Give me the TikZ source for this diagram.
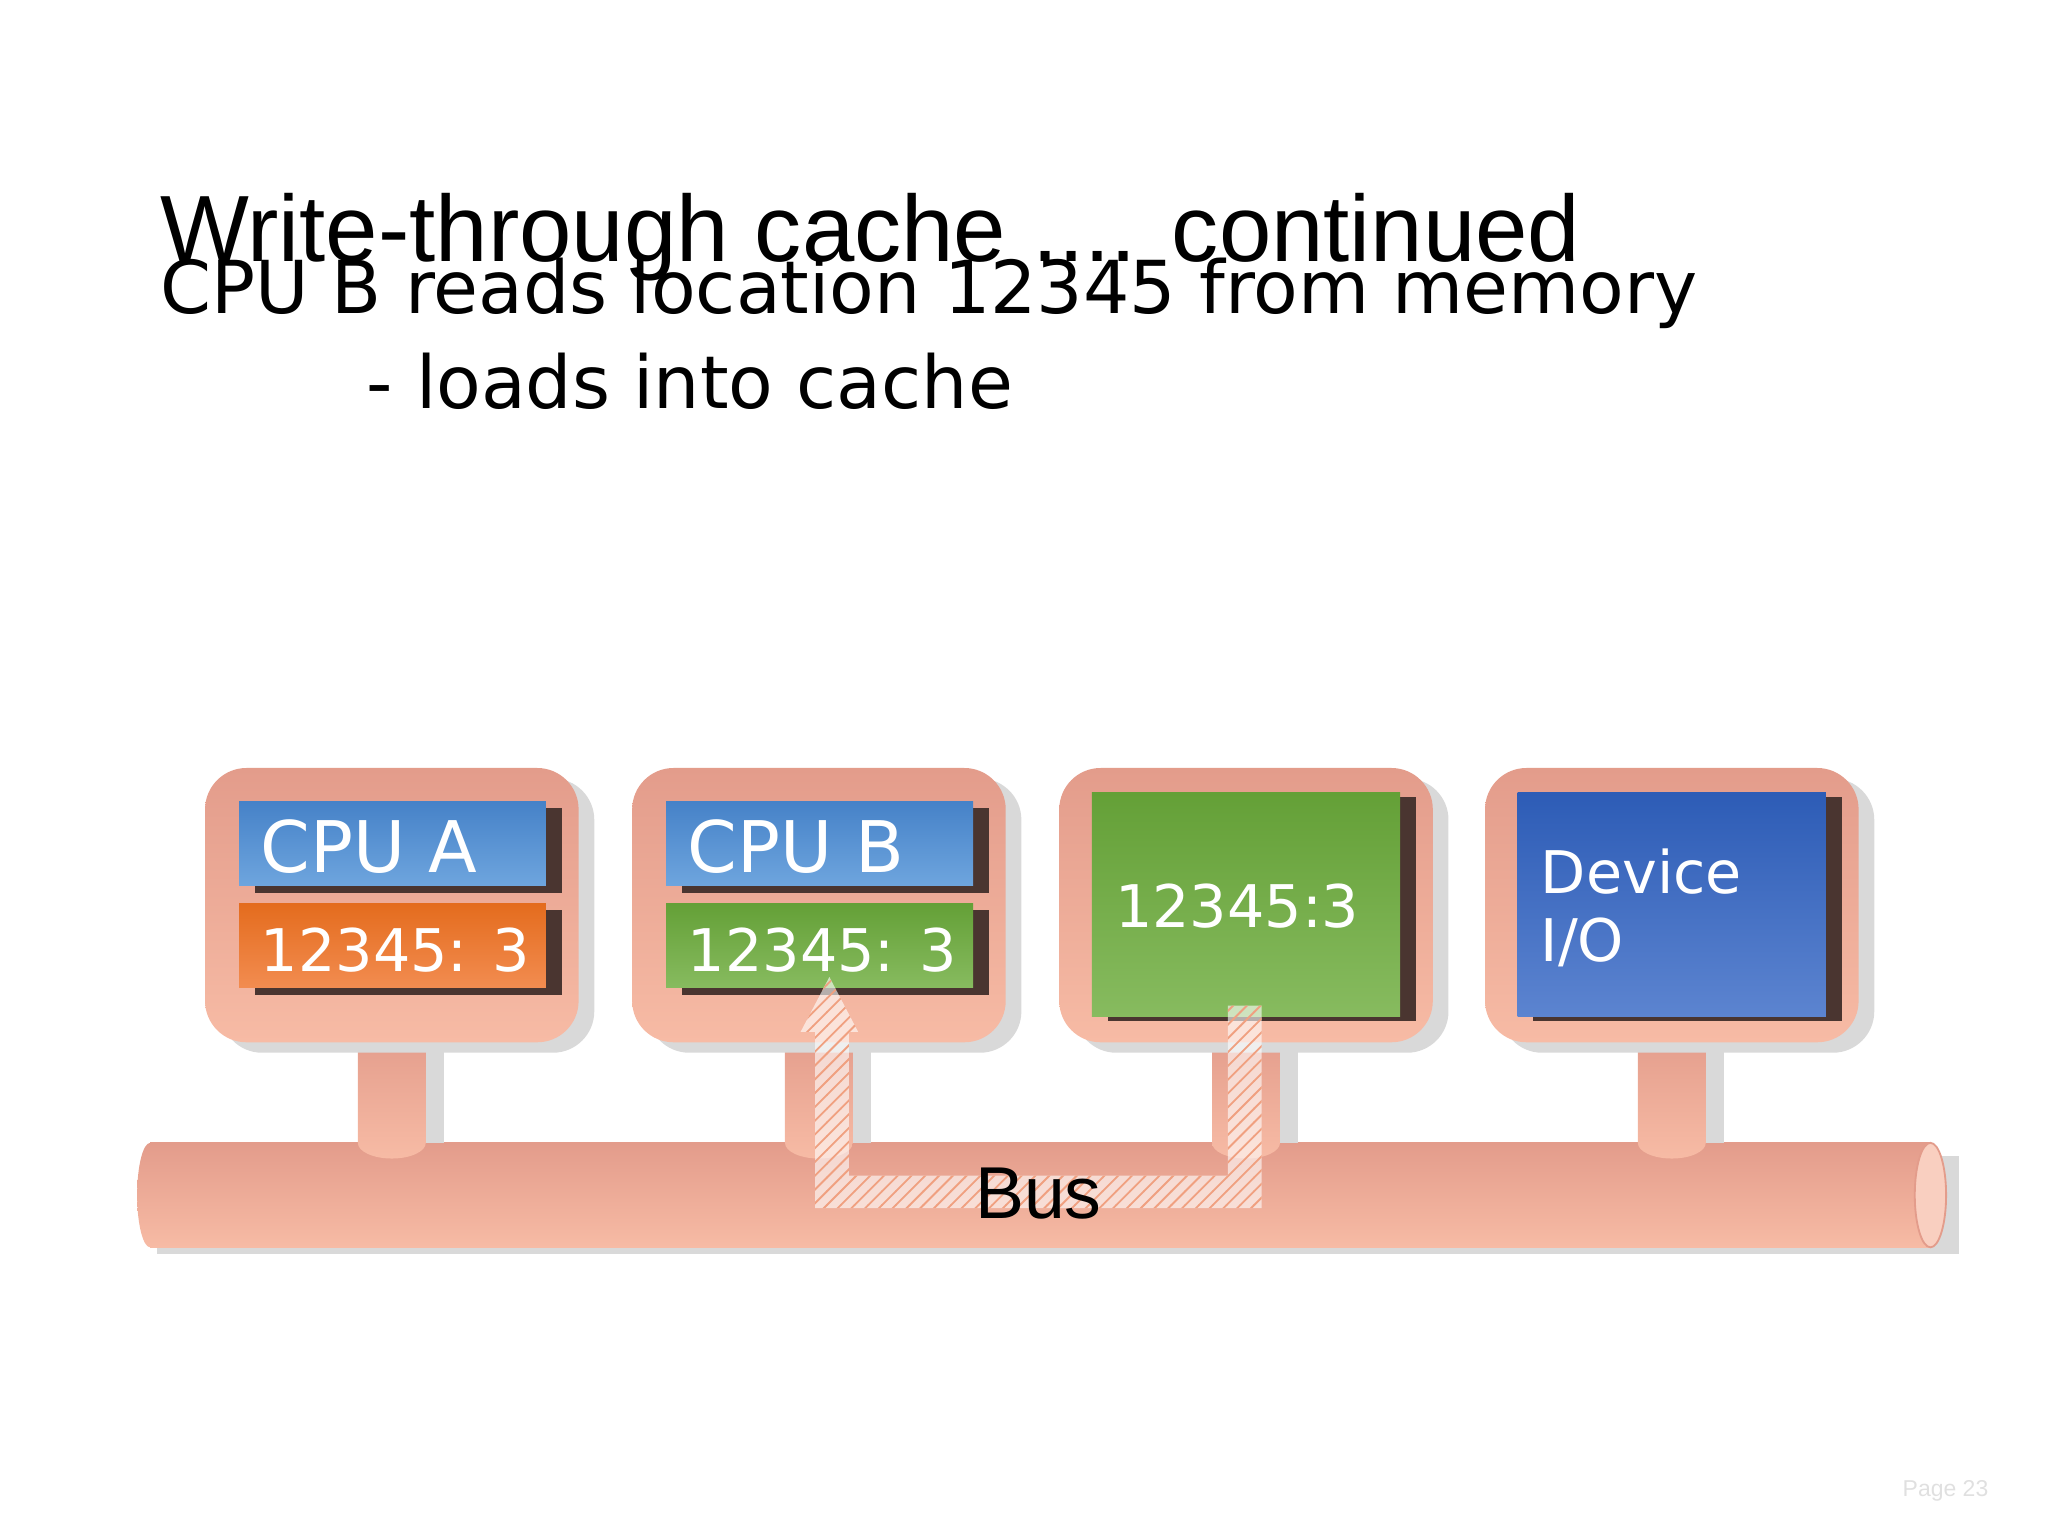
\documentclass[tikz,border=0pt]{standalone}
\usepackage{fontspec}
\setmainfont{Liberation Sans}
\newfontfamily\vfont{DejaVu Sans}
\usetikzlibrary{patterns}
\begin{document}
\begin{tikzpicture}[x=0.01cm,y=-0.01cm,
  outer/.style={rounded corners=9pt,top color=salA,bottom color=salB},
  shad/.style={rounded corners=9pt,fill=black!15},
  stem/.style={top color=salA,bottom color=salB},
  lbl/.style={anchor=base west,text=white,inner sep=0pt,font=\vfont\fontsize{15.5pt}{19pt}\selectfont},
  val/.style={anchor=base west,text=white,inner sep=0pt,font=\vfont\fontsize{12.8pt}{16pt}\selectfont},
  dk/.style={fill=darkbrown}]
\definecolor{salA}{HTML}{E39C8B}
\definecolor{salB}{HTML}{F7BBA5}
\definecolor{darkbrown}{HTML}{4A3530}
\definecolor{hatch}{HTML}{F0A080}
\useasboundingbox (0,0) rectangle (1568,1176);
% texts
\node[anchor=base west,inner sep=0pt,font=\fontsize{20.5pt}{24pt}\selectfont] (title) at (122,200) {Write-through cache .... continued};
\node[anchor=base west,inner sep=0pt,font=\vfont\fontsize{15.9pt}{20pt}\selectfont] (l1) at (122,240) {CPU B reads location 12345 from memory};
\node[anchor=base west,inner sep=0pt,font=\vfont\fontsize{15.9pt}{20pt}\selectfont] (l2) at (280,313) {- loads into cache};
% bus
\fill[black!15] (120,885) rectangle (1500,960);
\path[top color=salA,bottom color=salB] (115,875) rectangle (1478,955);
\path[top color=salA,bottom color=salB] (115,915) ellipse (10 and 40);
\filldraw[fill=salB!70!white,draw=salA] (1478,915) ellipse (12 and 40);
% stems
\foreach \c/\n in {300/s1,627/s2,954/s3,1280/s4}{
  \fill[black!15] (\c+26,790) rectangle (\c+40,875);
  \path[stem] (\c-26,790) -- (\c+26,790) -- (\c+26,875) arc (0:180:26 and 12) -- cycle;
}
% boxes
\foreach \x in {157,484,811,1137}{
  \path[shad] (\x+12,596) rectangle (\x+298,806);
  \path[outer] (\x,588) rectangle (\x+286,798);
}
% CPU A
\fill[dk] (195,619) rectangle (430,684);
\path[top color={rgb,255:red,70;green,130;blue,200},bottom color={rgb,255:red,110;green,165;blue,222}] (183,614) rectangle (418,678);
\node[lbl] (cpua) at (199,668) {CPU A};
\fill[dk] (195,697) rectangle (430,762);
\path[top color={rgb,255:red,228;green,108;blue,30},bottom color={rgb,255:red,242;green,140;blue,80}] (183,692) rectangle (418,756);
\node[val] (ca) at (199,744) {12345: 3};
% CPU B
\fill[dk] (522,619) rectangle (757,684);
\path[top color={rgb,255:red,70;green,130;blue,200},bottom color={rgb,255:red,110;green,165;blue,222}] (510,614) rectangle (745,678);
\node[lbl] (cpub) at (526,668) {CPU B};
\fill[dk] (522,697) rectangle (757,762);
\path[top color={rgb,255:red,100;green,160;blue,55},bottom color={rgb,255:red,135;green,187;blue,95}] (510,692) rectangle (745,756);
\node[val] (cb) at (526,744) {12345: 3};
% memory
\fill[dk] (848,610) rectangle (1084,782);
\path[top color={rgb,255:red,100;green,160;blue,55},bottom color={rgb,255:red,135;green,187;blue,95}] (836,607) rectangle (1072,778);
\node[val] (mem) at (853,710) {12345:3};
% device
\fill[dk] (1174,610) rectangle (1410,782);
\path[top color={rgb,255:red,45;green,92;blue,182},bottom color={rgb,255:red,92;green,132;blue,208}] (1162,607) rectangle (1398,778);
\node[val] (dev) at (1179,684) {Device};
\node[val] (io) at (1179,736) {I/O};
% hatched arrow
\path[fill=white,fill opacity=0.6] (940,770) -- (966,770) -- (966,925) -- (624,925) -- (624,790) -- (613,790) -- (635,748) -- (657,790) -- (650,790) -- (650,900) -- (940,900) -- cycle;
\path[pattern=north east lines,pattern color=hatch] (940,770) -- (966,770) -- (966,925) -- (624,925) -- (624,790) -- (613,790) -- (635,748) -- (657,790) -- (650,790) -- (650,900) -- (940,900) -- cycle;
\node[anchor=base,inner sep=0pt,font=\fontsize{16pt}{19pt}\selectfont] (bus) at (795,933) {Bus};
\node[anchor=base east,inner sep=0pt,text=black!12,font=\fontsize{5pt}{6pt}\selectfont] (pg) at (1523,1146) {Page 23};
\end{tikzpicture}
\end{document}
